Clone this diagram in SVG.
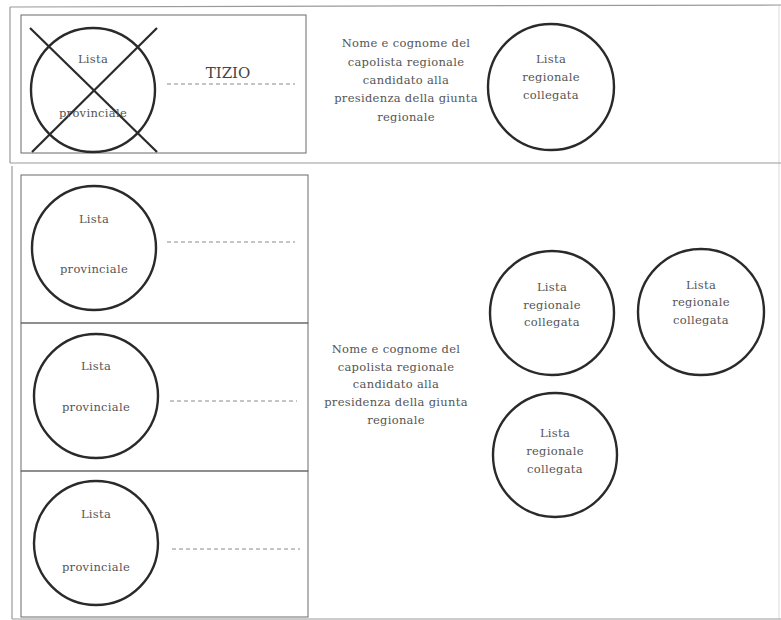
<svg xmlns="http://www.w3.org/2000/svg" width="781" height="620" viewBox="0 0 781 620">
<style>
.frame{fill:none;stroke:#9a9a9a;stroke-width:1.2}
.box{fill:none;stroke:#6a6a6a;stroke-width:1}
.circ{fill:none;stroke:#2a2a2a;stroke-width:2.4}
.cross{stroke:#2a2a2a;stroke-width:2.2}
.dash{stroke:#8a8a8a;stroke-width:1;stroke-dasharray:4 3}
text{font-family:'DejaVu Serif','Liberation Serif',serif}
.t{font-size:11.5px;letter-spacing:0.3px;fill:#555;text-anchor:middle}
.big{font-size:15px;fill:#444;text-anchor:middle}
</style>
<rect width="781" height="620" fill="#fff"/>
<g id="frames">
<line class="frame" x1="10" y1="7" x2="781" y2="5"/>
<line class="frame" x1="10" y1="7" x2="10" y2="163"/>
<line class="frame" x1="10" y1="163" x2="781" y2="163"/>
<line class="frame" x1="12" y1="166" x2="12" y2="619"/>
<line class="frame" x1="12" y1="619" x2="781" y2="619"/>
<line class="frame" x1="779" y1="5" x2="779" y2="619" stroke-opacity="0.3"/>
</g>
<g id="top-provinciale">
<rect class="box" x="21" y="15" width="285" height="138"/>
<circle class="circ" cx="93" cy="90" r="62"/>
<line class="cross" x1="30" y1="28" x2="157" y2="152"/>
<line class="cross" x1="32" y1="152" x2="157" y2="28"/>
<text class="t" x="93" y="63">Lista</text>
<text class="t" x="93" y="117">provinciale</text>
<text class="big" x="228" y="78">TIZIO</text>
<line class="dash" x1="167" y1="84" x2="295" y2="84"/>
</g>
<g id="top-capolista">
<text class="t" x="406" y="47">Nome e cognome del</text>
<text class="t" x="406" y="66">capolista regionale</text>
<text class="t" x="406" y="84">candidato alla</text>
<text class="t" x="406" y="102">presidenza della giunta</text>
<text class="t" x="406" y="121">regionale</text>
</g>
<g id="top-regionale">
<circle class="circ" cx="551" cy="87" r="63"/>
<text class="t" x="551" y="63">Lista</text>
<text class="t" x="551" y="81">regionale</text>
<text class="t" x="551" y="99">collegata</text>
</g>
<g id="prov1">
<rect class="box" x="21" y="175" width="287" height="148"/>
<circle class="circ" cx="94" cy="248" r="62"/>
<text class="t" x="94" y="223">Lista</text>
<text class="t" x="94" y="273">provinciale</text>
<line class="dash" x1="167" y1="242" x2="295" y2="242"/>
</g>
<g id="prov2">
<rect class="box" x="21" y="323" width="287" height="148"/>
<circle class="circ" cx="96" cy="396" r="62"/>
<text class="t" x="96" y="370">Lista</text>
<text class="t" x="96" y="411">provinciale</text>
<line class="dash" x1="170" y1="401" x2="297" y2="401"/>
</g>
<g id="prov3">
<rect class="box" x="21" y="471" width="287" height="146"/>
<circle class="circ" cx="96" cy="543" r="62"/>
<text class="t" x="96" y="518">Lista</text>
<text class="t" x="96" y="571">provinciale</text>
<line class="dash" x1="172" y1="549" x2="300" y2="549"/>
</g>
<g id="capolista">
<text class="t" x="396" y="353">Nome e cognome del</text>
<text class="t" x="396" y="371">capolista regionale</text>
<text class="t" x="396" y="388">candidato alla</text>
<text class="t" x="396" y="406">presidenza della giunta</text>
<text class="t" x="396" y="424">regionale</text>
</g>
<g id="regA">
<circle class="circ" cx="552" cy="313" r="62"/>
<text class="t" x="552" y="291">Lista</text>
<text class="t" x="552" y="309">regionale</text>
<text class="t" x="552" y="326">collegata</text>
</g>
<g id="regB">
<circle class="circ" cx="701" cy="312" r="63"/>
<text class="t" x="701" y="289">Lista</text>
<text class="t" x="701" y="306">regionale</text>
<text class="t" x="701" y="324">collegata</text>
</g>
<g id="regC">
<circle class="circ" cx="555" cy="455" r="62"/>
<text class="t" x="555" y="437">Lista</text>
<text class="t" x="555" y="455">regionale</text>
<text class="t" x="555" y="473">collegata</text>
</g>
</svg>
